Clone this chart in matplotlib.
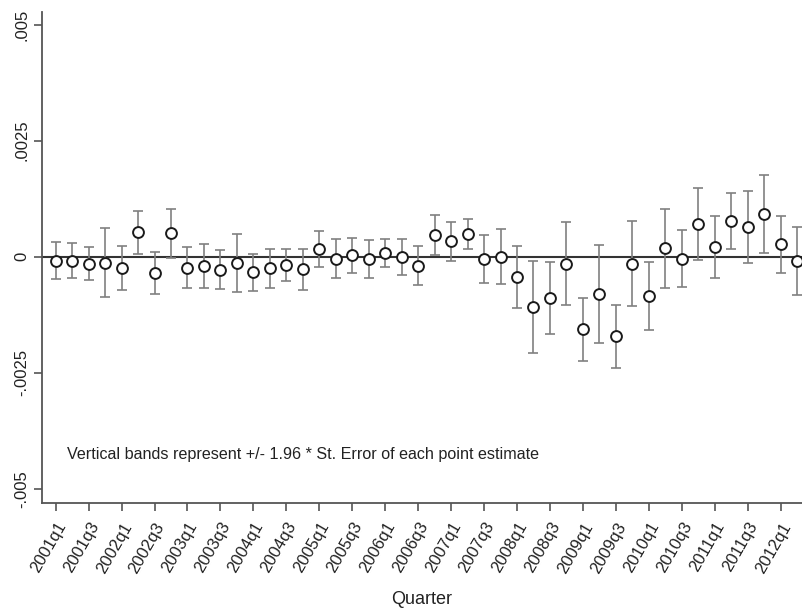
import numpy as np
import matplotlib
matplotlib.use("Agg")
import matplotlib.pyplot as plt

plt.rcParams['font.family'] = ['Liberation Sans', 'DejaVu Sans']

# -------------------------------
# Data: quarterly point estimates and standard errors
# -------------------------------
years = range(2001, 2013)
quarters = [f"{y}q{q}" for y in years for q in range(1, 5)][:46]  # 2001q1 .. 2012q2

coef = [-0.000084, -0.000084, -0.000148, -0.000127, -0.000235, 0.000527,
        -0.000342, 0.000506, -0.000235, -0.000198, -0.000278, -0.000127,
        -0.000333, -0.000252, -0.000170, -0.000269, 0.000168, -0.000041,
        0.000032, -0.000047, 0.000075, 0.000002, -0.000191, 0.000469,
        0.000333, 0.000491, -0.000047, 0.000002, -0.000428, -0.001080,
        -0.000880, -0.000148, -0.001560, -0.000807, -0.001710, -0.000148,
        -0.000850, 0.000183, -0.000041, 0.000712, 0.000217, 0.000770,
        0.000648, 0.000914, 0.000269, -0.000084]

se = [0.000200, 0.000190, 0.000179, 0.000377, 0.000240, 0.000239,
      0.000231, 0.000269, 0.000223, 0.000240, 0.000212, 0.000317,
      0.000203, 0.000216, 0.000174, 0.000225, 0.000199, 0.000216,
      0.000192, 0.000207, 0.000155, 0.000196, 0.000214, 0.000218,
      0.000216, 0.000170, 0.000260, 0.000300, 0.000340, 0.000507,
      0.000394, 0.000454, 0.000346, 0.000538, 0.000344, 0.000468,
      0.000371, 0.000434, 0.000311, 0.000397, 0.000342, 0.000309,
      0.000394, 0.000428, 0.000313, 0.000372]

yticks = [-0.005, -0.0025, 0, 0.0025, 0.005]
ytick_labels = ["-.005", "-.0025", "0", ".0025", ".005"]

x = np.arange(len(quarters))
coef = np.array(coef)
ci = 1.96 * np.array(se)

# -------------------------------
# Plot
# -------------------------------
fig = plt.figure(figsize=(8.02, 6.08), dpi=100)
ax = fig.add_axes([0.0524, 0.1727, 0.9476, 0.8076])

ax.axhline(0, color='#333333', lw=1.5, zorder=1)
ax.errorbar(x, coef, yerr=ci, fmt='none', ecolor='#808080', elinewidth=1.2,
            capsize=3.8, capthick=1.2, zorder=2)
ax.plot(x, coef, 'o', ms=7.8, mfc='white', mec='#1a1a1a', mew=1.4, zorder=3)

ax.text(0.7, -0.00426, "Vertical bands represent +/- 1.96 * St. Error of each point estimate",
        fontsize=11.6, color='#222222', va='center', ha='left')

ax.set_xlim(-0.83, 45.3)
ax.set_ylim(-0.0053, 0.00527)

ax.set_xticks(x[::2])
ax.set_xticklabels(quarters[::2], rotation=60, ha='right', rotation_mode='anchor',
                   fontsize=12, color='#222222')
ax.set_yticks(yticks)
ax.set_yticklabels(ytick_labels, rotation=90, va='center', fontsize=12, color='#222222')

ax.set_xlabel("Quarter", fontsize=13, color='#222222', labelpad=11)

for side in ['top', 'right']:
    ax.spines[side].set_visible(False)
for side in ['left', 'bottom']:
    ax.spines[side].set_color('#555555')
    ax.spines[side].set_linewidth(1.3)
ax.tick_params(axis='both', direction='out', length=6, width=1.2, color='#555555')
ax.tick_params(axis='x', pad=6)
ax.tick_params(axis='y', pad=3)

fig.savefig("out.png", dpi=100)
